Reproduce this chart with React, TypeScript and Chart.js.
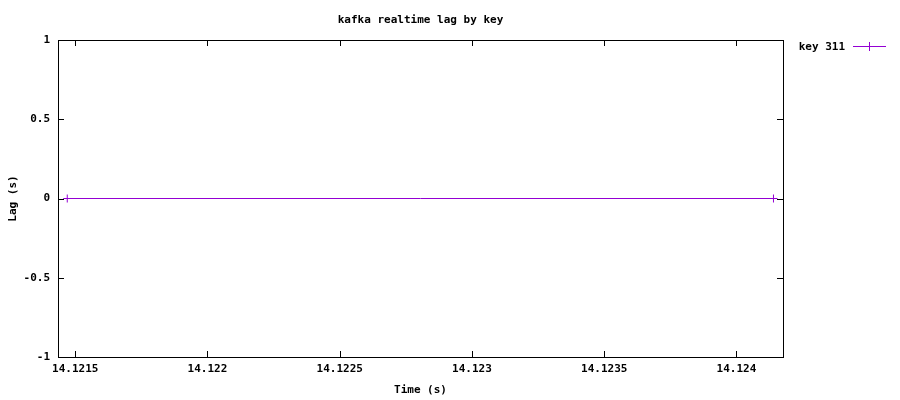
import React, { useEffect, useRef } from "react";
import { Chart, registerables } from "chart.js";
Chart.register(...registerables);

const title = "kafka realtime lag by key";
const seriesName = "key 311";
const xTitle = "Time (s)";
const yTitle = "Lag (s)";
const times = [14.12147, 14.12414];
const lags = [0, 0];
const xTicks = [14.1215, 14.122, 14.1225, 14.123, 14.1235, 14.124];
const yTicks = [-1, -0.5, 0, 0.5, 1];
const color = "#9400d3";
const font = { family: "DejaVu Sans Mono", size: 11, weight: "bold" as const };

export default function App() {
  const ref = useRef<HTMLCanvasElement>(null);
  useEffect(() => {
    document.body.style.margin = "0";
    const deco = {
      id: "deco",
      afterDraw(c: any) {
        const ctx = c.ctx, a = c.chartArea;
        ctx.save();
        ctx.strokeStyle = "#000";
        ctx.lineWidth = 1;
        ctx.strokeRect(Math.round(a.left) + 0.5, Math.round(a.top) + 0.5, Math.round(a.right - a.left), Math.round(a.bottom - a.top));
        ctx.beginPath();
        const xs = c.scales.x, ys = c.scales.y;
        xTicks.forEach(v => {
          const p = Math.round(xs.getPixelForValue(v)) + 0.5;
          ctx.moveTo(p, a.bottom); ctx.lineTo(p, a.bottom - 6);
          ctx.moveTo(p, a.top); ctx.lineTo(p, a.top + 6);
        });
        yTicks.forEach(v => {
          const p = Math.round(ys.getPixelForValue(v)) + 0.5;
          ctx.moveTo(a.left, p); ctx.lineTo(a.left + 6, p);
          ctx.moveTo(a.right, p); ctx.lineTo(a.right - 6, p);
        });
        ctx.stroke();
        ctx.fillStyle = "#000";
        ctx.font = "bold 11px 'DejaVu Sans Mono'";
        ctx.textAlign = "center";
        ctx.textBaseline = "middle";
        ctx.fillText(title, (a.left + a.right) / 2, 20);
        ctx.fillText(xTitle, (a.left + a.right) / 2, 390);
        ctx.save();
        ctx.translate(13, (a.top + a.bottom) / 2);
        ctx.rotate(-Math.PI / 2);
        ctx.fillText(yTitle, 0, 0);
        ctx.restore();
        ctx.textAlign = "right";
        ctx.fillText(seriesName, 845, 47);
        ctx.strokeStyle = color;
        ctx.beginPath();
        ctx.moveTo(853, 46.5); ctx.lineTo(886, 46.5);
        ctx.moveTo(869.5, 42); ctx.lineTo(869.5, 51);
        ctx.stroke();
        ctx.restore();
      },
    };
    const chart = new Chart(ref.current!, {
      type: "line",
      data: {
        datasets: [{
          label: seriesName,
          data: times.map((t, i) => ({ x: t, y: lags[i] })),
          borderColor: color,
          backgroundColor: color,
          borderWidth: 1,
          pointStyle: "cross",
          pointRadius: 4,
          pointBorderWidth: 1,
        }],
      },
      options: {
        animation: false,
        responsive: false,
        layout: { padding: { top: 40, right: 117, left: 0, bottom: 0 } },
        plugins: { legend: { display: false }, tooltip: { enabled: false } },
        scales: {
          x: {
            type: "linear", min: 14.121435, max: 14.124176,
            afterBuildTicks: (s: any) => { s.ticks = xTicks.map(v => ({ value: v })); },
            afterFit: (s: any) => { s.height = 43; },
            grid: { display: false, drawTicks: false },
            border: { color: "#000" },
            ticks: { color: "#000", font, padding: 6, maxRotation: 0, callback: (v: any) => String(+(+v).toFixed(4)) },
          },
          y: {
            min: -1, max: 1,
            afterBuildTicks: (s: any) => { s.ticks = yTicks.map(v => ({ value: v })); },
            afterFit: (s: any) => { s.width = 58; },
            grid: { display: false, drawTicks: false },
            border: { color: "#000" },
            ticks: { color: "#000", font, padding: 8, callback: (v: any) => String(v) },
          },
        },
      },
      plugins: [deco],
    });
    return () => chart.destroy();
  }, []);
  return <canvas ref={ref} width={900} height={400} style={{ display: "block" }} />;
}
